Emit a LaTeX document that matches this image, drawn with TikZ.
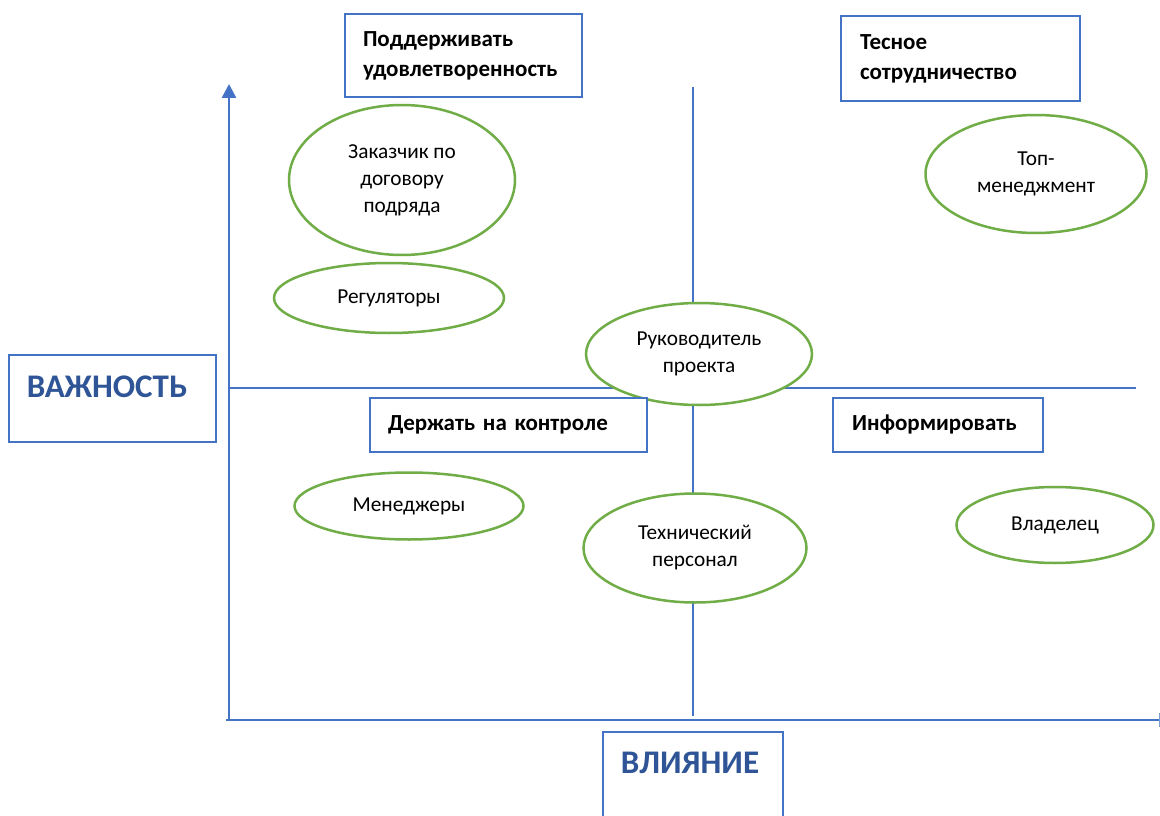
\documentclass[tikz,border=0pt]{standalone}
\usepackage{fontspec}
\setmainfont{Carlito}
\usetikzlibrary{arrows.meta,shapes.geometric}
\definecolor{axblue}{HTML}{4472C4}
\definecolor{elgreen}{HTML}{70AD47}
\definecolor{txtblue}{HTML}{2F5597}
\begin{document}
\begin{tikzpicture}[x=1pt,y=-1pt,
  stake/.style={ellipse, draw=elgreen, line width=2.5pt, fill=white, inner sep=0pt, align=center, font=\fontsize{21.3}{27}\selectfont},
  quad/.style={rectangle, draw=axblue, line width=2pt, fill=white, align=left, inner xsep=18pt, inner ysep=0pt, font=\fontsize{23}{30}\selectfont\bfseries},
  axbox/.style={rectangle, draw=axblue, line width=2.2pt, fill=white, inner sep=0pt},
  axlabel/.style={font=\fontsize{33}{36}\selectfont\bfseries, text=txtblue, inner sep=0pt},
  mid/.style={draw=axblue, line width=1.2pt},
  axisline/.style={draw=axblue, line width=2.6pt}]
\useasboundingbox (0,0) rectangle (1160,816);
\clip (0,0) rectangle (1160,816);
\fill[white] (0,0) rectangle (1160,816);

% coordinates
\coordinate (vbot) at (229,721);
\coordinate (vtop) at (229,84);
\coordinate (hleft) at (226,720);
\coordinate (hright) at (1159,720);
\coordinate (vmtop) at (693,87);
\coordinate (vmbot) at (693,716);
\coordinate (hmleft) at (229,388);
\coordinate (hmright) at (1136,388);

% quadrant lines
\draw[mid] (vmtop) -- (vmbot);
\draw[mid] (hmleft) -- (hmright);

% axes
\draw[axisline, -{Triangle[width=14pt,length=14pt]}] (vbot) -- (vtop);
\draw[axisline] (hleft) -- (hright);
\draw[draw=axblue!70, line width=1pt] ([yshift=7pt]hright) -- ([yshift=-7pt]hright);

% stakeholders
\node[stake, minimum width=226pt, minimum height=150pt] (cust) at (402,180) {Заказчик по\\договору\\подряда};
\node[stake, minimum width=230pt, minimum height=70pt] (reg) at (389,298) {Регуляторы};
\node[stake, minimum width=226pt, minimum height=102pt] (pm) at (699,354) {Руководитель\\проекта};
\node[stake, minimum width=221pt, minimum height=118pt] (top) at (1036,174) {Топ-\\менеджмент};
\node[stake, minimum width=229pt, minimum height=67pt] (mgr) at (409,506) {Менеджеры};
\node[stake, minimum width=223pt, minimum height=109pt] (tech) at (695,548) {Технический\\персонал};
\node[stake, minimum width=197pt, minimum height=76pt] (owner) at (1055,525) {Владелец};

% quadrant boxes
\node[quad, text width=201pt, minimum height=83pt] (support) at (463.5,55.5) {Поддерживать\\удовлетворенность};
\node[quad, text width=201pt, minimum height=85pt, inner xsep=19pt] (close) at (960.5,58.5) {Тесное\\сотрудничество};
\node[quad, text width=241pt, minimum height=54pt] (control) at (508.5,425) {Держать на контроле};
\node[quad, text width=172pt, minimum height=54pt, inner xsep=19pt] (inform) at (938,425) {Информировать};

% axis labels
\node[axbox, minimum width=207pt, minimum height=87pt] (vazhbox) at (112.5,398.5) {};
\node[axlabel] (vazh) at (107,387) {ВАЖНОСТЬ};
\node[axbox, minimum width=180pt, minimum height=100pt] (vliyabox) at (693,782) {};
\node[axlabel] (vliya) at (690,763) {ВЛИЯНИЕ};
\end{tikzpicture}
\end{document}
